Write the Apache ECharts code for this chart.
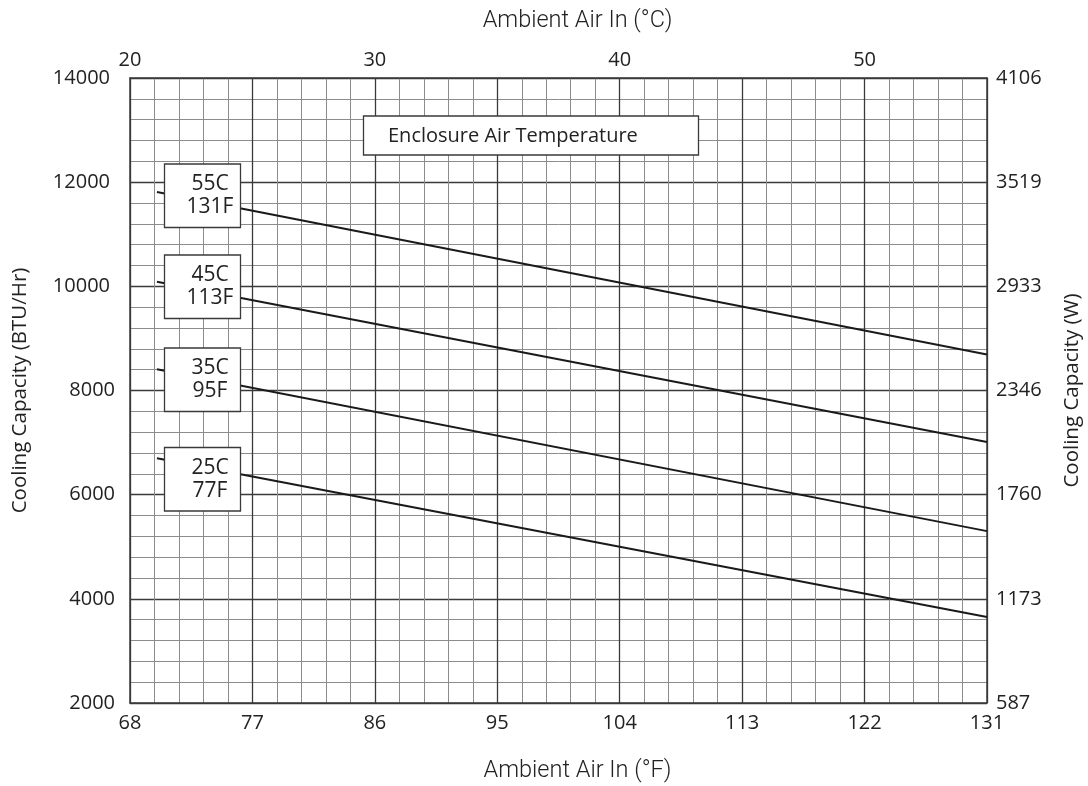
<!DOCTYPE html>
<html><head><meta charset="utf-8">
<script src="https://cdn.jsdelivr.net/npm/echarts@6/dist/echarts.min.js"></script>
<style>html,body{margin:0;padding:0;background:#fff}#c{width:1088px;height:786px}</style>
</head><body><div id="c"></div>
<script>
// Ambient air in, °C (x positions of each line's ends)
const ambientC = [21.1, 55];
// Cooling capacity, BTU/Hr, per enclosure air temperature
const cap55C = [11810, 8690];
const cap45C = [10090, 7010];
const cap35C = [8410, 5300];
const cap25C = [6700, 3650];
const seriesLabels = ['55C\n131F', '45C\n113F', '35C\n95F', '25C\n77F'];
// tick labels
const fTickLabels = ['68', '77', '86', '95', '104', '113', '122', '131'];
const cTickLabels = ['20', '', '30', '', '40', '', '50', ''];
const wTickLabels = ['587', '1173', '1760', '2346', '2933', '3519', '4106'];

const FONT = 'Open Sans';
const TXT = '#222';
const MAJOR = '#3a3a3a';
const MINOR = '#8c8c8c';

function lineData(arr) { return ambientC.map((x, i) => [x, arr[i]]); }

const xName = { fontFamily: 'Roboto', fontWeight: 300, fontSize: 23.5, color: TXT, padding: [0, 0, 0, 38] };
const yName = { fontFamily: FONT, fontSize: 20.5, color: TXT };

const xCommon = {
  type: 'value', min: 20, max: 55, interval: 5,
  axisLine: { show: true, onZero: false, lineStyle: { color: MAJOR, width: 1.5 } },
  axisTick: { show: false },
  minorTick: { show: false, splitNumber: 5 },
  nameLocation: 'middle',
  nameTextStyle: xName
};
const yCommon = {
  type: 'value', min: 2000, max: 14000, interval: 2000,
  axisLine: { show: true, onZero: false, lineStyle: { color: MAJOR, width: 1.5 } },
  axisTick: { show: false },
  minorTick: { show: false, splitNumber: 5 },
  nameLocation: 'middle', nameRotate: 90,
  nameTextStyle: yName
};

const boxTops = [164, 255, 348, 447.5];
const graphics = [];
seriesLabels.forEach((t, i) => {
  graphics.push({
    type: 'rect', z: 100,
    shape: { x: 164.5, y: boxTops[i], width: 76, height: 63.5 },
    style: { fill: '#fff', stroke: MAJOR, lineWidth: 1.3 }
  });
  graphics.push({
    type: 'text', z: 101,
    x: 210, y: boxTops[i] + 32,
    style: { text: t, fontFamily: FONT, fontSize: 21, lineHeight: 23, fill: TXT,
      align: 'center', verticalAlign: 'middle' }
  });
});
graphics.push({
  type: 'rect', z: 100,
  shape: { x: 363.5, y: 116, width: 335, height: 39 },
  style: { fill: '#fff', stroke: MAJOR, lineWidth: 1.3 }
});
graphics.push({
  type: 'text', z: 101, x: 388, y: 136,
  style: { text: 'Enclosure Air Temperature', fontFamily: FONT, fontSize: 20, fill: TXT,
    align: 'left', verticalAlign: 'middle' }
});

const tick = { fontFamily: FONT, fontSize: 20, color: TXT };

const chart = echarts.init(document.getElementById('c'), null, { renderer: 'canvas' });
chart.setOption({
  backgroundColor: '#fff',
  animation: false,
  grid: { left: 130, right: 101, top: 78, bottom: 83, containLabel: false, outerBoundsMode: 'none' },
  xAxis: [
    Object.assign({}, xCommon, {
      position: 'bottom',
      name: 'Ambient Air In (°F)', nameGap: 56,
      axisLabel: Object.assign({ margin: 10,
        formatter: (v) => fTickLabels[Math.round((v - 20) / 5)] }, tick),
      splitLine: { show: true, lineStyle: { color: MAJOR, width: 1.3 } },
      minorSplitLine: { show: true, lineStyle: { color: MINOR, width: 1 } }
    }),
    Object.assign({}, xCommon, {
      position: 'top',
      name: 'Ambient Air In (°C)', nameGap: 45,
      axisLabel: Object.assign({ margin: 8,
        formatter: (v) => cTickLabels[Math.round((v - 20) / 5)] }, tick),
      splitLine: { show: false }
    })
  ],
  yAxis: [
    Object.assign({}, yCommon, {
      position: 'left',
      name: 'Cooling Capacity (BTU/Hr)', nameGap: 99,
      axisLabel: Object.assign({ margin: 15,
        formatter: (v) => v >= 10000 ? '{w|' + v + '}' : String(v),
        rich: { w: { fontFamily: FONT, fontSize: 20, color: TXT, padding: [0, 5, 0, 0] } } }, tick),
      splitLine: { show: true, lineStyle: { color: MAJOR, width: 1.3 } },
      minorSplitLine: { show: true, lineStyle: { color: MINOR, width: 1 } }
    }),
    Object.assign({}, yCommon, {
      position: 'right',
      name: 'Cooling Capacity (W)', nameGap: 75,
      axisLabel: Object.assign({ margin: 9,
        formatter: (v) => wTickLabels[Math.round((v - 2000) / 2000)] }, tick),
      splitLine: { show: false }
    })
  ],
  series: [cap55C, cap45C, cap35C, cap25C].map((arr, i) => ({
    type: 'line', name: seriesLabels[i], data: lineData(arr),
    xAxisIndex: 0, yAxisIndex: 0, symbol: 'none', z: 5,
    lineStyle: { color: '#1a1a1a', width: 2 }
  })),
  graphic: graphics
});
</script>
</body></html>
